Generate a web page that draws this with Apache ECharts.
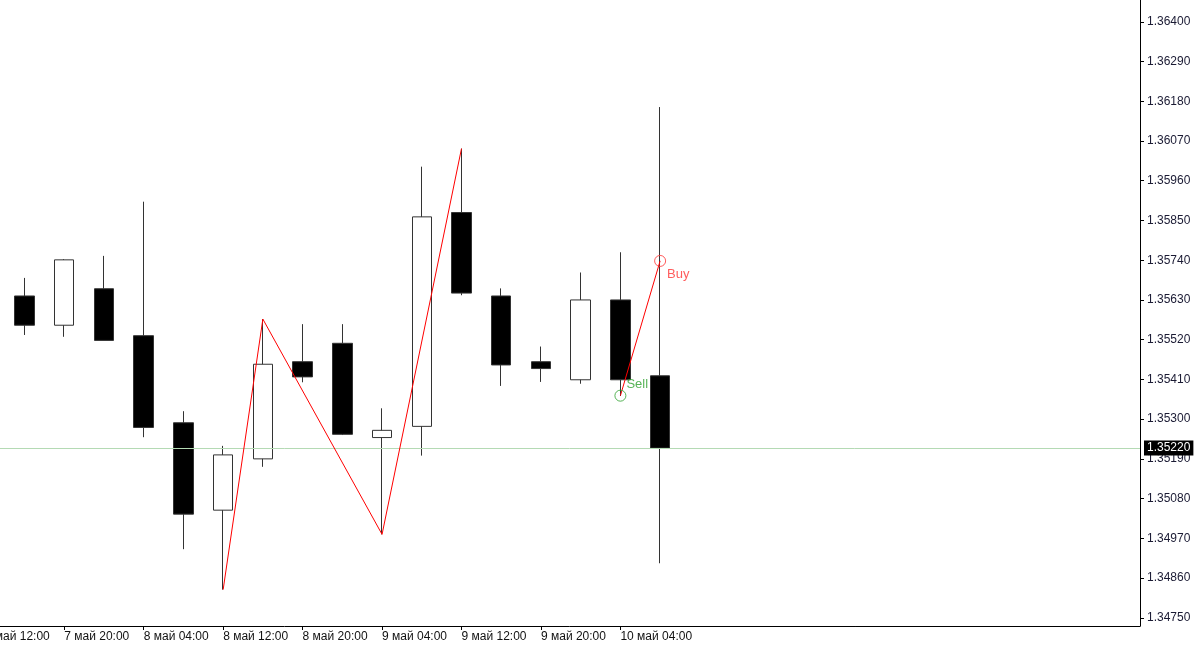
<!DOCTYPE html>
<html><head><meta charset="utf-8">
<script src="https://cdn.jsdelivr.net/npm/echarts@6/dist/echarts.min.js"></script>
<style>html,body{margin:0;padding:0;background:#fff;overflow:hidden}#c{width:1200px;height:652px}</style>
</head><body><div id="c"></div>
<script>
// bar slots (4h); slot 0 is the partially visible first label
const timeLabels = ['7 май 12:00','7 май 16:00','7 май 20:00','8 май 00:00','8 май 04:00','8 май 08:00','8 май 12:00','8 май 16:00','8 май 20:00','9 май 00:00','9 май 04:00','9 май 08:00','9 май 12:00','9 май 16:00','9 май 20:00','10 май 00:00','10 май 04:00','10 май 08:00'];
const opens  = [null,1.35641,1.35560,1.35661,1.35531,1.35290,1.35048,1.35190,1.35459,1.35510,1.35249,1.35280,1.35872,1.35641,1.35459,1.35409,1.35630,1.35420];
const closes = [null,1.35560,1.35741,1.35518,1.35277,1.35037,1.35201,1.35452,1.35417,1.35258,1.35269,1.35860,1.35649,1.35450,1.35440,1.35630,1.35409,1.35220];
const lows   = [null,1.35533,1.35528,1.35518,1.35250,1.34940,1.34828,1.35168,1.35402,1.35256,1.34981,1.35199,1.35643,1.35392,1.35403,1.35398,1.35364,1.34901];
const highs  = [null,1.35691,1.35743,1.35752,1.35902,1.35322,1.35226,1.35577,1.35563,1.35563,1.35330,1.35999,1.36049,1.35662,1.35501,1.35706,1.35762,1.36164];
const zigzagSlots  = [6, 7, 10, 12];
const zigzagPrices = [1.34828, 1.35577, 1.34981, 1.36049];
const sellSlot = 16, sellPrice = 1.35365;
const buySlot = 17, buyPrice = 1.35738;
const currentPrice = 1.35220;
const priceTicks = [1.34750,1.34860,1.34970,1.35080,1.35190,1.35300,1.35410,1.35520,1.35630,1.35740,1.35850,1.35960,1.36070,1.36180,1.36290,1.36400];
const timeTickSlots = [0,2,4,6,8,10,12,14,16];

const candles = [];
for (let i = 0; i < timeLabels.length; i++) {
  if (opens[i] == null) continue;
  candles.push([i, opens[i], closes[i], lows[i], highs[i]]);
}
const zigzag = zigzagSlots.map((s, i) => [s, zigzagPrices[i]]);
const FONT = 'Liberation Sans';

const chart = echarts.init(document.getElementById('c'), null, {renderer: 'canvas'});
chart.setOption({
  animation: false,
  backgroundColor: '#fff',
  grid: {left: -15.2, right: 60, top: 0, bottom: 26, containLabel: false, outerBoundsMode: 'none'},
  xAxis: {
    type: 'value', min: 0, max: 29.08, position: 'bottom',
    axisLine: {show: true, onZero: false, lineStyle: {color: '#000', width: 1}},
    axisTick: {show: true, length: 4, customValues: timeTickSlots, lineStyle: {color: '#000'}},
    axisLabel: {customValues: timeTickSlots, formatter: v => timeLabels[Math.round(v)] || '',
      align: 'left', margin: 5, color: '#111', fontSize: 12, fontFamily: FONT},
    splitLine: {show: false}
  },
  yAxis: {
    type: 'value', position: 'right', min: 1.347273, max: 1.364604, scale: true,
    axisLine: {show: true, onZero: false, lineStyle: {color: '#000', width: 1}},
    axisTick: {show: true, length: 4, customValues: priceTicks, lineStyle: {color: '#000'}},
    axisLabel: {customValues: priceTicks, formatter: v => v.toFixed(5), margin: 7,
      color: '#1a1a33', fontSize: 12, fontFamily: FONT},
    splitLine: {show: false}
  },
  series: [
    {
      type: 'candlestick', data: candles, encode: {x: 0, y: [1, 2, 3, 4]},
      barWidth: 20, silent: true, z: 2,
      itemStyle: {color: '#fff', color0: '#000', borderColor: '#333', borderColor0: '#333', borderWidth: 1}
    },
    {
      type: 'line', data: zigzag, symbol: 'none', silent: true, z: 5,
      lineStyle: {color: '#ff0000', width: 1},
      markLine: {
        silent: true, symbol: ['none', 'none'], animation: false, precision: 5,
        lineStyle: {color: '#b4dab4', type: 'solid', width: 1},
        label: {position: 'end', formatter: currentPrice.toFixed(5), color: '#fff', backgroundColor: '#000',
          padding: [2, 3, 1, 3], fontSize: 12, fontFamily: FONT, distance: 4},
        data: [{yAxis: currentPrice}]
      }
    },
    {
      type: 'line', data: [[sellSlot, sellPrice], [buySlot, buyPrice]], symbol: 'none', silent: true, z: 5,
      lineStyle: {color: '#ff0000', width: 1}
    },
    {
      type: 'scatter', data: [[sellSlot, sellPrice]], symbol: 'circle', symbolSize: 11, silent: true, z: 6,
      itemStyle: {color: 'rgba(0,0,0,0)', borderColor: '#2ca02c', borderWidth: 1},
      label: {show: true, formatter: 'Sell', position: 'right', offset: [-5, -11], color: '#2ca02c',
        fontSize: 13, fontFamily: FONT}
    },
    {
      type: 'scatter', data: [[buySlot, buyPrice]], symbol: 'circle', symbolSize: 11, silent: true, z: 6,
      itemStyle: {color: 'rgba(0,0,0,0)', borderColor: '#ff3333', borderWidth: 1},
      label: {show: true, formatter: 'Buy', position: 'right', offset: [-4, 13], color: '#ff3333',
        fontSize: 13, fontFamily: FONT}
    }
  ]
});
</script>
</body></html>
